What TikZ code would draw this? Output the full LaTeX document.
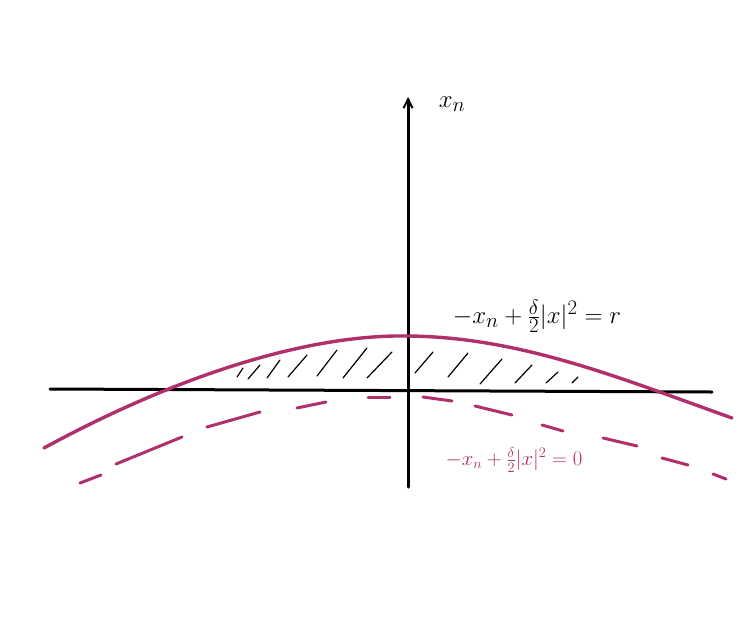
\documentclass[tikz,border=0pt]{standalone}
\usetikzlibrary{arrows.meta}
\definecolor{mag}{RGB}{176,48,108}
\begin{document}
\begin{tikzpicture}[x=1pt,y=-1pt,
  axis/.style={line width=3pt,line cap=round,black},
  curve/.style={line width=3.4pt,line cap=round,mag},
  dashseg/.style={line width=3pt,line cap=round,mag},
  hatch/.style={line width=1.2pt,line cap=round,black},
  lbl/.style={inner sep=0pt}]
\fill[white] (0,0) rectangle (755,635);
\useasboundingbox (0,0) rectangle (755,635);
% axes
\coordinate (xl) at (50,389);
\coordinate (xr) at (712,392);
\coordinate (yb) at (408,487);
\coordinate (yt) at (408,97);
\draw[axis] (xl) -- (xr);
\draw[axis,-{Straight Barb[length=9pt,width=9pt,line width=2pt]}] (yb) -- (yt);
\node[lbl] (xn) at (452,104) {\fontsize{29}{33}\selectfont$x_n$};
% solid curve
\coordinate (cl) at (44,448);
\coordinate (ctop) at (408,336);
\coordinate (cr) at (732,418);
\draw[curve] (cl) .. controls (165,382) and (300,334) .. (ctop)
  .. controls (520,337) and (620,378) .. (cr);
% dashed curve
\foreach \a/\b in {{(80,483)}/{(101,475)},{(116,464)}/{(182,437)},{(207,427)}/{(260,412)},{(297,408)}/{(326,402)},{(368,397)}/{(390,397)},{(423,397)}/{(452,401)},{(475,406)}/{(512,415)},{(542,425)}/{(563,431)},{(603,438)}/{(637,446)},{(662,458)}/{(688,465)},{(713,474)}/{(726,479)}}
  \draw[dashseg] \a -- \b;
% hatching
\foreach \a/\b in {{(237,377)}/{(243,368)},{(248,379)}/{(260,365)},{(267,378)}/{(280,360)},{(288,377)}/{(307,355)},{(317,376)}/{(337,350)},{(343,378)}/{(367,348)},{(367,378)}/{(392,352)},{(415,373)}/{(433,352)},{(448,377)}/{(468,353)},{(480,384)}/{(502,359)},{(515,383)}/{(532,365)},{(546,383)}/{(558,372)},{(572,383)}/{(578,377)}}
  \draw[hatch] \a -- \b;
% labels
\node[lbl] (lr) at (537,316) {\fontsize{29}{33}\selectfont$-x_n+\frac{\delta}{2}|x|^2=r$};
\node[lbl,text=mag] (l0) at (514,460) {\fontsize{22}{26}\selectfont$-x_n+\frac{\delta}{2}|x|^2=0$};
\end{tikzpicture}
\end{document}
